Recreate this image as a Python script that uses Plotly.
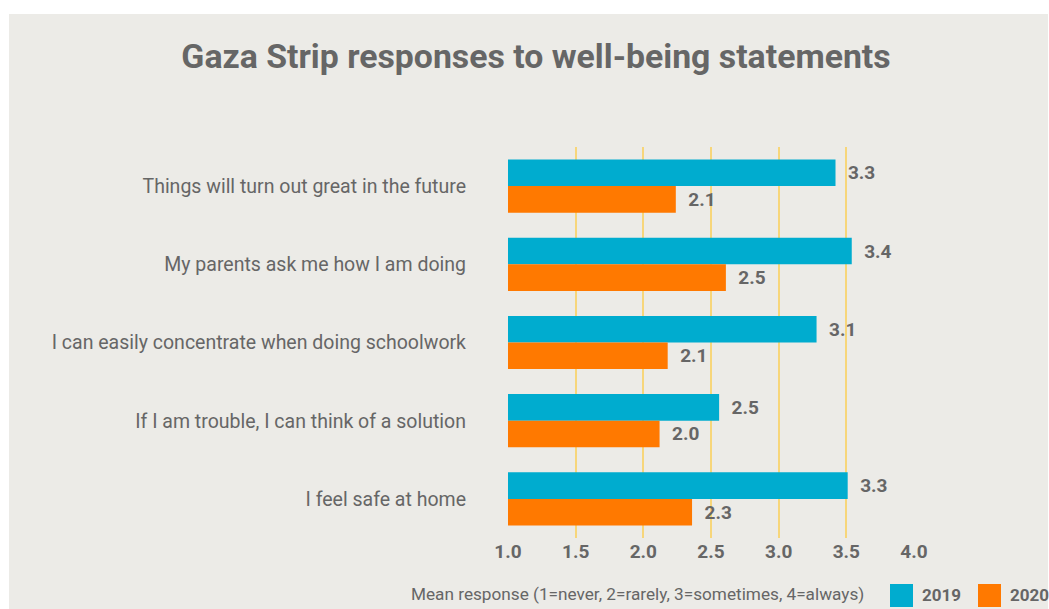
import plotly.graph_objects as go

# ---- data ----
statements = [
    "Things will turn out great in the future",
    "My parents ask me how I am doing",
    "I can easily concentrate when doing schoolwork",
    "If I am trouble, I can think of a solution",
    "I feel safe at home",
]
values_2019 = [3.42, 3.54, 3.28, 2.56, 3.51]
values_2020 = [2.24, 2.61, 2.18, 2.12, 2.36]
labels_2019 = ["3.3", "3.4", "3.1", "2.5", "3.3"]
labels_2020 = ["2.1", "2.5", "2.1", "2.0", "2.3"]
x_ticks = [1.0, 1.5, 2.0, 2.5, 3.0, 3.5, 4.0]
x_tick_text = ["1.0", "1.5", "2.0", "2.5", "3.0", "3.5", "4.0"]
series_names = ["2019", "2020"]
axis_title = "Mean response (1=never, 2=rarely, 3=sometimes, 4=always)"
chart_title = "Gaza Strip responses to well-being statements"

# ---- style ----
W, H = 1049, 609
ML, MR, MT, MB = 508, 135, 147, 71
BG = "#ECEBE7"
GRID = "#F7D67A"
TXT = "#666666"
C2019 = "#00ACCF"
C2020 = "#FF7900"
FONT = "Roboto"

PW = W - ML - MR
PH = H - MT - MB


def px(x):  # page pixel -> paper
    return (x - ML) / PW


def py(y):
    return (H - MB - y) / PH


fig = go.Figure()
pad = "\u00a0\u00a0"
for vals, labs, name, col in [(values_2019, labels_2019, series_names[0], C2019),
                              (values_2020, labels_2020, series_names[1], C2020)]:
    fig.add_trace(go.Bar(
        y=statements, x=vals, name=name, orientation="h",
        marker=dict(color=col, line=dict(width=0)),
        text=[pad + t for t in labs], textposition="outside",
        textfont=dict(family=FONT, size=19, color=TXT, weight="bold"),
        cliponaxis=False,
    ))

shapes = [
    dict(type="rect", xref="paper", yref="paper", layer="below",
         x0=px(9), x1=px(1048), y0=py(620), y1=py(14),
         fillcolor=BG, line=dict(width=0)),
]
annotations = [
    dict(text=axis_title, xref="paper", yref="paper", x=px(866), y=py(594),
         xanchor="right", yanchor="middle", showarrow=False,
         font=dict(family=FONT, size=17.2, color=TXT)),
]
legend_items = [(series_names[0], C2019, 890), (series_names[1], C2020, 978)]
for name, col, x0 in legend_items:
    shapes.append(dict(type="rect", xref="paper", yref="paper",
                       x0=px(x0), x1=px(x0 + 23), y0=py(607), y1=py(584),
                       fillcolor=col, line=dict(width=0)))
    annotations.append(dict(text=name, xref="paper", yref="paper",
                            x=px(x0 + 30), y=py(595), xanchor="left", yanchor="middle",
                            showarrow=False,
                            font=dict(family=FONT, size=17, color=TXT, weight="bold")))

fig.update_layout(
    width=W, height=H,
    margin=dict(l=ML, r=MR, t=MT, b=MB, autoexpand=False),
    paper_bgcolor="white",
    plot_bgcolor="rgba(0,0,0,0)",
    barmode="group", bargap=0.32, bargroupgap=0,
    showlegend=False,
    title=dict(text=chart_title, x=536 / W, y=1 - 56 / H,
               xanchor="center", yanchor="middle",
               font=dict(family=FONT, size=33.8, color=TXT, weight="bold")),
    xaxis=dict(range=[1, 4], tickvals=x_ticks, ticktext=x_tick_text,
               showgrid=True, gridcolor=GRID, gridwidth=2, zeroline=False,
               showline=False, ticks="",
               tickfont=dict(family=FONT, size=19, color=TXT, weight="bold")),
    yaxis=dict(autorange="reversed", showgrid=False, zeroline=False,
               showline=False, ticks="", ticklabelstandoff=41,
               tickfont=dict(family=FONT, size=19.5, color=TXT)),
    shapes=shapes,
    annotations=annotations,
    font=dict(family=FONT, color=TXT),
)

fig.write_html(
    "out.html",
    config={"displayModeBar": False},
    post_script="document.documentElement.style.overflow='hidden';"
                "document.body.style.overflow='hidden';"
                "document.body.style.margin='0';",
)
